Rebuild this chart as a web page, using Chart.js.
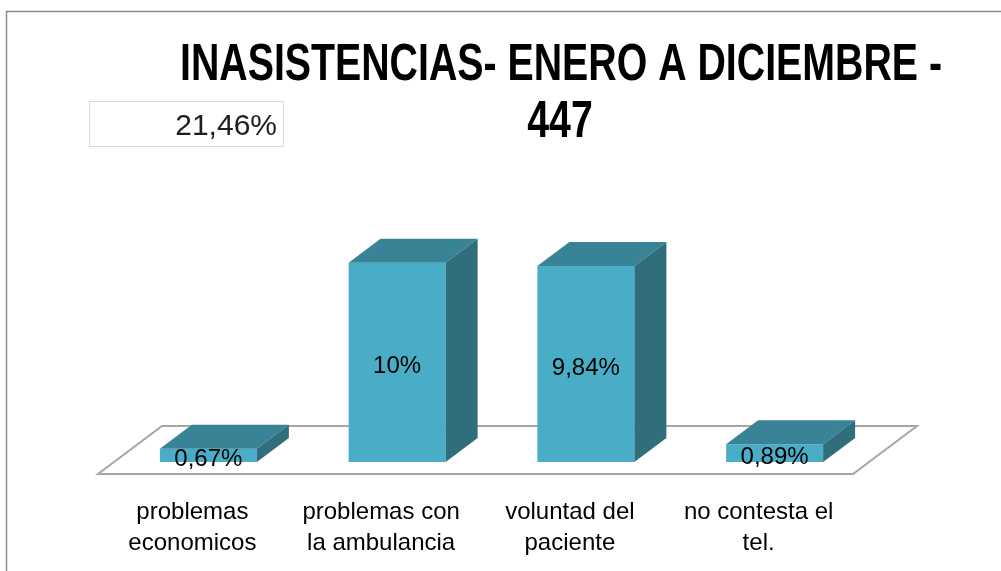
<!DOCTYPE html>
<html><head><meta charset="utf-8">
<script src="https://cdn.jsdelivr.net/npm/chart.js@4/dist/chart.umd.min.js"></script>
<style>html,body{margin:0;padding:0;background:#fff;overflow:hidden}canvas{display:block}</style>
</head><body>
<canvas id="c" width="1001" height="571"></canvas>
<script>
const categories = [['problemas','economicos'],['problemas con','la ambulancia'],['voluntad del','paciente'],['no contesta el','tel.']];
const values = [0.67, 10, 9.84, 0.89];
const valueLabels = ['0,67%','10%','9,84%','0,89%'];
const titleLines = ['INASISTENCIAS- ENERO A DICIEMBRE -','447'];
const totalLabel = '21,46%';
const yMax = 12;

const FONT = '"Liberation Sans", sans-serif';
const FRONT = '#4aadc7', TOP = '#388396', SIDE = '#316e7c';
const DX = 32, DY = 24;

const deco = {
  id: 'deco',
  beforeDraw(chart) {
    const ctx = chart.ctx;
    ctx.save();
    ctx.fillStyle = '#fff';
    ctx.fillRect(0, 0, chart.width, chart.height);
    // outer frame
    ctx.strokeStyle = '#8c8c8c'; ctx.lineWidth = 1.5;
    ctx.beginPath(); ctx.moveTo(6.5, 571); ctx.lineTo(6.5, 11.5); ctx.lineTo(1001, 11.5); ctx.stroke();
    // title
    ctx.fillStyle = '#000'; ctx.textAlign = 'center'; ctx.textBaseline = 'middle';
    ctx.font = 'bold 51px ' + FONT;
    const w = ctx.measureText(titleLines[0]).width;
    const sx = 762 / w;
    ctx.save(); ctx.translate(561, 66); ctx.scale(sx, 1); ctx.fillText(titleLines[0], 0, 0); ctx.restore();
    ctx.save(); ctx.translate(560, 123); ctx.scale(sx, 1); ctx.fillText(titleLines[1], 0, 0); ctx.restore();
    // total box
    ctx.strokeStyle = '#d9d9d9'; ctx.lineWidth = 1;
    ctx.strokeRect(89.5, 101.5, 194, 45);
    ctx.fillStyle = '#1e1e1e'; ctx.textAlign = 'right';
    ctx.font = '30px ' + FONT;
    ctx.fillText(totalLabel, 277, 127);
    ctx.restore();
  },
  beforeDatasetsDraw(chart) {
    const ctx = chart.ctx, a = chart.chartArea;
    const b = a.bottom;
    ctx.save();
    ctx.strokeStyle = '#a6a6a6'; ctx.lineWidth = 2; ctx.fillStyle = '#fff';
    ctx.beginPath();
    ctx.moveTo(a.left - DX/2, b + DY/2);
    ctx.lineTo(a.left + DX*1.5, b - DY*1.5);
    ctx.lineTo(a.right + DX*1.5, b - DY*1.5);
    ctx.lineTo(a.right - DX/2, b + DY/2);
    ctx.closePath(); ctx.fill(); ctx.stroke();
    ctx.restore();
  },
  afterDatasetsDraw(chart) {
    const ctx = chart.ctx;
    const meta = chart.getDatasetMeta(0);
    ctx.save();
    meta.data.forEach((bar, i) => {
      const l = bar.x - bar.width/2, r = bar.x + bar.width/2, t = bar.y, bs = bar.base;
      ctx.fillStyle = TOP;
      ctx.beginPath(); ctx.moveTo(l, t); ctx.lineTo(l+DX, t-DY); ctx.lineTo(r+DX, t-DY); ctx.lineTo(r, t); ctx.closePath(); ctx.fill();
      ctx.fillStyle = SIDE;
      ctx.beginPath(); ctx.moveTo(r, t); ctx.lineTo(r+DX, t-DY); ctx.lineTo(r+DX, bs-DY); ctx.lineTo(r, bs); ctx.closePath(); ctx.fill();
    });
    ctx.fillStyle = '#000'; ctx.textAlign = 'center'; ctx.textBaseline = 'middle';
    ctx.font = '24px ' + FONT;
    meta.data.forEach((bar, i) => {
      ctx.fillText(valueLabels[i], bar.x, (bar.y + bar.base)/2 + 4);
    });
    ctx.restore();
  }
};

new Chart(document.getElementById('c'), {
  type: 'bar',
  data: {
    labels: categories,
    datasets: [{ data: values, backgroundColor: FRONT, borderWidth: 0, barPercentage: 0.514, categoryPercentage: 1 }]
  },
  options: {
    responsive: false, animation: false,
    layout: { padding: { left: 114, right: 132, top: 223, bottom: 0 } },
    plugins: { legend: { display: false }, tooltip: { enabled: false } },
    scales: {
      x: {
        grid: { display: false, drawTicks: false }, border: { display: false },
        ticks: { color: '#000', font: { family: FONT, size: 24, lineHeight: 1.3 }, padding: 35, labelOffset: -16, maxRotation: 0, autoSkip: false },
        afterFit(s) { s.height = 109; }
      },
      y: { display: false, min: 0, max: yMax }
    }
  },
  plugins: [deco]
});
</script>
</body></html>
